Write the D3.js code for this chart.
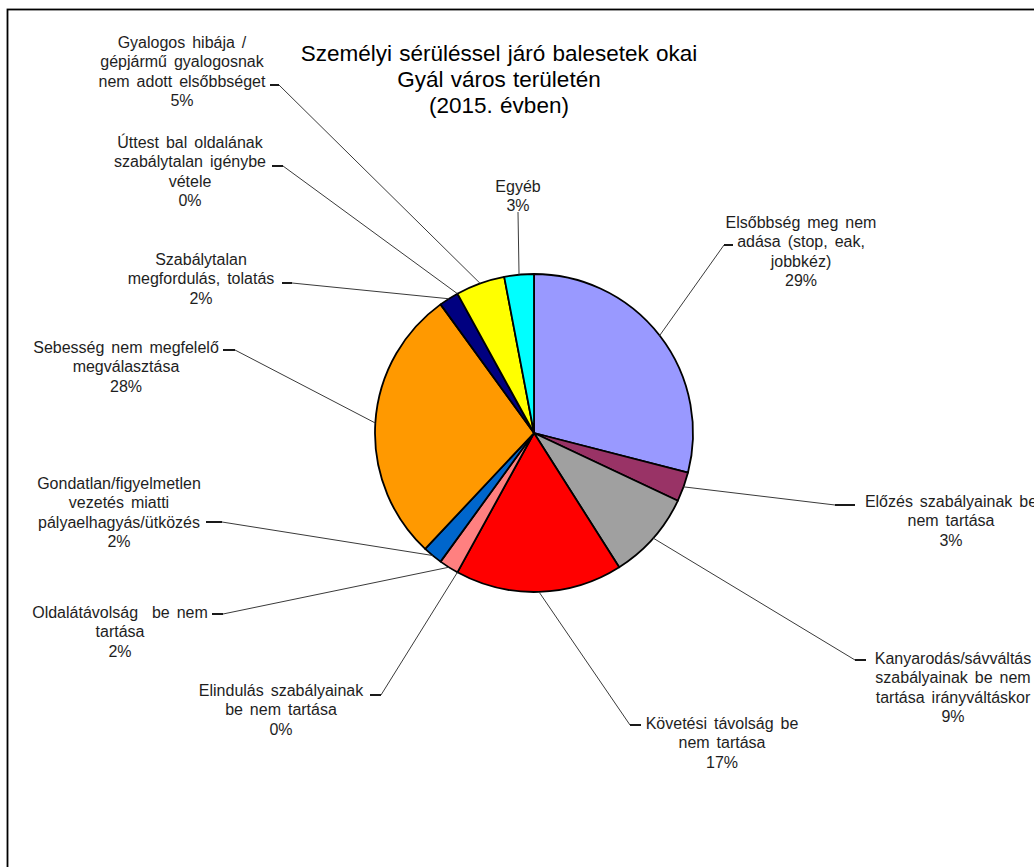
<!DOCTYPE html>
<html>
<head>
<meta charset="utf-8">
<script src="https://cdn.jsdelivr.net/npm/d3@7"></script>
<style>
  html, body { margin: 0; padding: 0; background: #fff; }
  svg { display: block; }
  text { font-family: "Liberation Sans", Arial, sans-serif; fill: #1e1e1e; }
</style>
</head>
<body>
<svg id="chart" width="1034" height="867"></svg>
<script>
// Causes of personal-injury road accidents, Gyál, 2015 (share of cases, %)
const categories = [
  ["Elsőbbség meg nem", "adása (stop, eak,", "jobbkéz)"],
  ["Előzés szabályainak be", "nem tartása"],
  ["Kanyarodás/sávváltás", "szabályainak be nem", "tartása irányváltáskor"],
  ["Követési távolság be", "nem tartása"],
  ["Elindulás szabályainak", "be nem tartása"],
  ["Oldalátávolság  be nem", "tartása"],
  ["Gondatlan/figyelmetlen", "vezetés miatti", "pályaelhagyás/ütközés"],
  ["Sebesség nem megfelelő", "megválasztása"],
  ["Szabálytalan", "megfordulás, tolatás"],
  ["Úttest bal oldalának", "szabálytalan igénybe", "vétele"],
  ["Gyalogos hibája /", "gépjármű gyalogosnak", "nem adott elsőbbséget"],
  ["Egyéb"]
];
const values = [29, 3, 9, 17, 0, 2, 2, 28, 2, 0, 5, 3];
const colors = ["#9999FF", "#993366", "#A0A0A0", "#FF0000", "#C0C0C0", "#FF8080",
                "#0066CC", "#FF9900", "#000080", "#CCCCFF", "#FFFF00", "#00FFFF"];
const titleLines = ["Személyi sérüléssel járó balesetek okai", "Gyál város területén", "(2015. évben)"];

// Label placement: text centre x, first baseline y, leader stub start x/y and stub end x
const labelLayout = [
  { cx: 801, by: 228, sx: 733, sy: 245, ex: 724 },
  { cx: 951, by: 507, sx: 855, sy: 505, ex: 835 },
  { cx: 953, by: 664, sx: 866, sy: 660, ex: 855 },
  { cx: 722, by: 729, sx: 641, sy: 725, ex: 630 },
  { cx: 281, by: 696, sx: 370, sy: 695, ex: 381 },
  { cx: 120, by: 618, sx: 212, sy: 614, ex: 223 },
  { cx: 119, by: 489, sx: 206, sy: 522, ex: 222 },
  { cx: 126, by: 353, sx: 223, sy: 350, ex: 235 },
  { cx: 201, by: 265, sx: 282, sy: 283, ex: 292 },
  { cx: 190, by: 148, sx: 272, sy: 166, ex: 283 },
  { cx: 182, by: 48,  sx: 270, sy: 85,  ex: 279 },
  { cx: 518, by: 192, sx: 518, sy: 212, ex: 518 }
];

const svg = d3.select("#chart");
const lineH = 19.3;

// Frame of the chart area
svg.append("rect")
  .attr("x", 7.5).attr("y", 9.5)
  .attr("width", 1100).attr("height", 900)
  .attr("fill", "none").attr("stroke", "#000").attr("stroke-width", 1.8);

// Title
svg.append("g").selectAll("text")
  .data(titleLines)
  .join("text")
  .attr("x", 499)
  .attr("y", (d, i) => 61 + i * 26)
  .attr("text-anchor", "middle")
  .style("font-size", "22.5px")
  .style("word-spacing", "1px")
  .style("fill", "#000")
  .text(d => d);

const cx = 534, cy = 433, radius = 159;

const pie = d3.pie().sort(null).value(d => d)
  .startAngle(0).endAngle(2 * Math.PI);
const arcs = pie(values);
const arcGen = d3.arc().innerRadius(0).outerRadius(radius);

const pieG = svg.append("g").attr("transform", `translate(${cx},${cy})`);
pieG.selectAll("path")
  .data(arcs.filter(d => d.value > 0))
  .join("path")
  .attr("d", arcGen)
  .attr("fill", d => colors[d.index])
  .attr("stroke", "#000")
  .attr("stroke-width", 1.8)
  .attr("stroke-linejoin", "round");

// Leader lines: from label stub to the middle of each slice's rim
const leaders = svg.append("g");
arcs.forEach((d, i) => {
  const L = labelLayout[i];
  const mid = (d.startAngle + d.endAngle) / 2;
  const px = cx + radius * Math.sin(mid);
  const py = cy - radius * Math.cos(mid);
  leaders.append("path")
    .attr("d", d3.line()([[L.ex, L.sy], [px, py]]))
    .attr("fill", "none")
    .attr("stroke", "#3a3a3a")
    .attr("stroke-width", 1);
  if (L.ex !== L.sx) {
    leaders.append("path")
      .attr("d", d3.line()([[L.sx, L.sy], [L.ex, L.sy]]))
      .attr("stroke", "#000")
      .attr("stroke-width", 1.8);
  }
});

// Category labels with percentage line
const labelsG = svg.append("g");
arcs.forEach((d, i) => {
  const L = labelLayout[i];
  const lines = categories[i].concat([`${values[i]}%`]);
  const t = labelsG.append("text")
    .attr("text-anchor", "middle")
    .style("font-size", "16px")
    .style("word-spacing", "2.5px")
    .style("white-space", "pre");
  lines.forEach((ln, k) => {
    t.append("tspan")
      .attr("x", L.cx)
      .attr("y", L.by + k * lineH)
      .text(ln);
  });
});
</script>
</body>
</html>
